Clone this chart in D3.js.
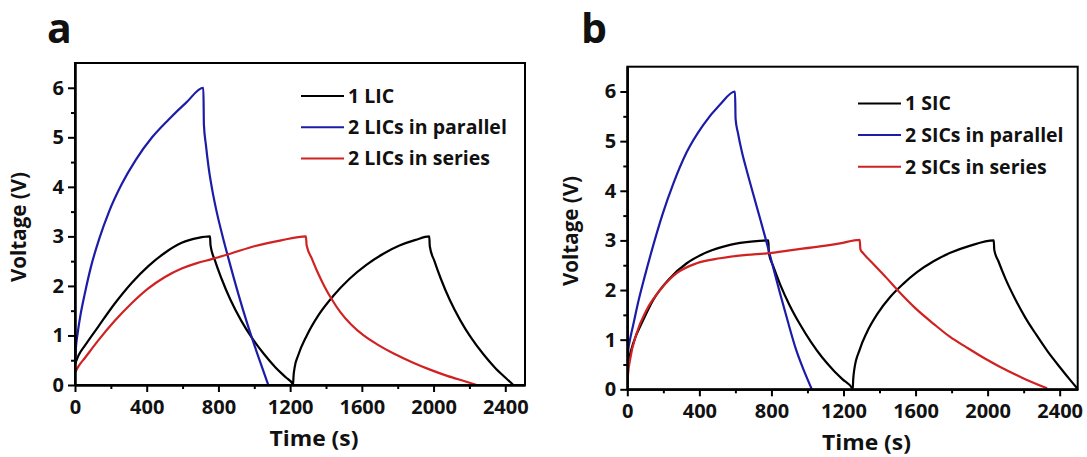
<!DOCTYPE html>
<html>
<head>
<meta charset="utf-8">
<script src="https://cdnjs.cloudflare.com/ajax/libs/d3/7.8.5/d3.min.js"></script>
<style>
  body { margin: 0; background: #fff; }
  text { font-family: "Open Sans", Lato, sans-serif; font-weight: bold; fill: #111; }
</style>
</head>
<body>
<div id="chart"></div>
<script>
// ---- data (time in s, voltage in V) ----
var aLabels = ["1 LIC", "2 LICs in parallel", "2 LICs in series"];
var bLabels = ["1 SIC", "2 SICs in parallel", "2 SICs in series"];

var aSingleT = [0, 20, 56, 130, 223, 316, 409, 502, 595, 688, 753, 756, 782, 817, 867, 927, 987, 1055, 1117, 1177, 1214,
                1216, 1219, 1225, 1245, 1293, 1360, 1441, 1530, 1627, 1720, 1813, 1900, 1976, 1979, 2005, 2040, 2090, 2150,
                2210, 2278, 2340, 2400, 2445];
var aSingleV = [0.42, 0.6, 0.8, 1.18, 1.65, 2.06, 2.4, 2.67, 2.87, 2.97, 3.0, 2.82, 2.5, 2.15, 1.72, 1.3, 0.95, 0.62, 0.36, 0.15, 0.02,
                0, 0.18, 0.35, 0.6, 1.0, 1.42, 1.8, 2.14, 2.43, 2.65, 2.82, 2.93, 3.0, 2.8, 2.5, 2.15, 1.72, 1.3,
                0.95, 0.62, 0.36, 0.15, 0];

var aParallelT = [0, 5, 15, 30, 55, 90, 135, 190, 260, 340, 430, 520, 620, 716, 719, 730, 745, 765, 790, 820, 860, 910, 960, 1020, 1078];
var aParallelV = [0.45, 0.75, 1.05, 1.4, 1.85, 2.4, 2.95, 3.5, 4.05, 4.55, 5.0, 5.35, 5.7, 6.0, 5.26, 4.85, 4.4, 3.95, 3.5, 3.05, 2.5, 1.85, 1.25, 0.6, 0];

var aSeriesT = [0, 20, 56, 130, 223, 316, 409, 502, 595, 680, 762, 874, 1000, 1150, 1288, 1292, 1320, 1350, 1390, 1432, 1480,
                1540, 1610, 1690, 1780, 1880, 1980, 2080, 2170, 2241];
var aSeriesV = [0.25, 0.38, 0.55, 0.9, 1.3, 1.65, 1.95, 2.18, 2.35, 2.46, 2.54, 2.66, 2.8, 2.92, 3.0, 2.82, 2.56, 2.3, 2.0, 1.73, 1.47,
                1.22, 1.0, 0.81, 0.63, 0.46, 0.31, 0.18, 0.08, 0];

var bSingleT = [0, 10, 33, 89, 144, 237, 330, 441, 570, 700, 783, 786, 810, 850, 900, 960, 1020, 1080, 1140, 1195, 1248,
                1251, 1254, 1260, 1290, 1330, 1390, 1459, 1530, 1608, 1700, 1793, 1900, 2034, 2037, 2060, 2100, 2150, 2210,
                2270, 2330, 2400, 2460, 2497];
var bSingleV = [0.4, 0.62, 0.93, 1.4, 1.8, 2.24, 2.54, 2.76, 2.91, 2.98, 3.0, 2.74, 2.48, 2.1, 1.7, 1.3, 0.95, 0.65, 0.4, 0.2, 0.02,
                0, 0.2, 0.4, 0.8, 1.15, 1.53, 1.86, 2.12, 2.36, 2.58, 2.75, 2.89, 3.0, 2.81, 2.58, 2.22, 1.84, 1.44,
                1.1, 0.78, 0.45, 0.18, 0.02];

var bParallelT = [0, 5, 15, 33, 60, 95, 140, 195, 256, 330, 422, 515, 598, 601, 615, 635, 665, 700, 740, 774, 810, 848, 890, 935, 980, 1024];
var bParallelV = [0.49, 0.78, 1.0, 1.3, 1.75, 2.25, 2.85, 3.52, 4.15, 4.78, 5.33, 5.74, 6.0, 5.45, 5.15, 4.8, 4.38, 3.92, 3.4, 2.95, 2.45, 1.93, 1.38, 0.82, 0.38, 0];

var bSeriesT = [0, 4, 15, 52, 107, 182, 274, 385, 515, 663, 774, 922, 1070, 1180, 1290, 1294, 1310, 1367, 1440, 1515,
                1600, 1700, 1790, 1885, 1980, 2070, 2200, 2330];
var bSeriesV = [0.05, 0.3, 0.59, 1.13, 1.6, 2.0, 2.34, 2.54, 2.64, 2.71, 2.74, 2.81, 2.88, 2.94, 3.01, 2.82, 2.74, 2.52, 2.24, 1.94,
                1.63, 1.32, 1.06, 0.84, 0.63, 0.45, 0.22, 0.02];

var xTicks = [0, 400, 800, 1200, 1600, 2000, 2400];
var xMinorTicks = [200, 600, 1000, 1400, 1800, 2200];
var yTicks = [0, 1, 2, 3, 4, 5, 6];
var yMinorTicks = [0.5, 1.5, 2.5, 3.5, 4.5, 5.5];

var lineColors = ["#000000", "#1c1ca8", "#d02222"];

function zipSeries(t, v) {
  return t.map(function(d, i) { return { t: d, v: v[i] }; });
}

// ---- layout ----
var svg = d3.select("#chart").append("svg")
    .attr("width", 1087)
    .attr("height", 457);

var panels = [
  { letter: "a", letterX: 47, left: 75, top: 63, width: 450, height: 322, xMax: 2510,
    legX: 301, legY: 96, legStep: 31.3, labels: aLabels,
    series: [zipSeries(aSingleT, aSingleV), zipSeries(aParallelT, aParallelV), zipSeries(aSeriesT, aSeriesV)] },
  { letter: "b", letterX: 581, left: 627.3, top: 66.7, width: 450.4, height: 322.6, xMax: 2500,
    legX: 858, legY: 103.5, legStep: 31.6, labels: bLabels,
    series: [zipSeries(bSingleT, bSingleV), zipSeries(bParallelT, bParallelV), zipSeries(bSeriesT, bSeriesV)] }
];

panels.forEach(function(p, pi) {
  var x = d3.scaleLinear().domain([0, p.xMax]).range([0, p.width]);
  var y = d3.scaleLinear().domain([0, 6.5]).range([p.height, 0]);

  svg.append("text")
      .attr("x", p.letterX)
      .attr("y", 43)
      .style("font-size", "41px")
      .text(p.letter);

  var g = svg.append("g").attr("transform", "translate(" + p.left + "," + p.top + ")");

  g.append("clipPath").attr("id", "clip" + pi)
    .append("rect").attr("width", p.width).attr("height", p.height);

  // curves
  var line = d3.line()
      .x(function(d) { return x(d.t); })
      .y(function(d) { return y(d.v); })
      .curve(d3.curveMonotoneX);

  g.append("g").attr("clip-path", "url(#clip" + pi + ")")
    .selectAll("path")
    .data(p.series)
    .enter().append("path")
      .attr("d", line)
      .attr("fill", "none")
      .attr("stroke", function(d, i) { return lineColors[i]; })
      .attr("stroke-width", 2.2)
      .attr("stroke-linejoin", "round");

  // frame
  g.append("rect")
      .attr("width", p.width)
      .attr("height", p.height)
      .attr("fill", "none")
      .attr("stroke", "#000")
      .attr("stroke-width", 2);

  // axes
  g.append("g").attr("transform", "translate(0," + p.height + ")")
      .call(d3.axisBottom(x).tickValues(xTicks).tickFormat(d3.format("d"))
        .tickSize(7).tickPadding(8).tickSizeOuter(0));
  g.append("g").attr("transform", "translate(0," + p.height + ")")
      .call(d3.axisBottom(x).tickValues(xMinorTicks).tickSize(4).tickFormat("").tickSizeOuter(0));
  g.append("g")
      .call(d3.axisLeft(y).tickValues(yTicks).tickFormat(d3.format("d"))
        .tickSize(7).tickPadding(4).tickSizeOuter(0));
  g.append("g")
      .call(d3.axisLeft(y).tickValues(yMinorTicks).tickSize(4).tickFormat("").tickSizeOuter(0));

  g.selectAll(".domain").attr("stroke-width", 2);
  g.selectAll(".tick line").attr("stroke-width", 2);
  g.selectAll(".tick text")
      .attr("fill", "#111")
      .style("font-family", "\"Open Sans\", Lato, sans-serif")
      .style("font-weight", "bold")
      .style("font-size", "20px");

  // axis titles
  g.append("text")
      .attr("x", p.width / 2 + 14)
      .attr("y", p.height + 61)
      .attr("text-anchor", "middle")
      .attr("textLength", 89)
      .attr("lengthAdjust", "spacingAndGlyphs")
      .style("font-size", "21px")
      .text("Time (s)");

  g.append("text")
      .attr("transform", "translate(-49," + (p.height / 2 + 3) + ") rotate(-90)")
      .attr("text-anchor", "middle")
      .attr("textLength", 110)
      .attr("lengthAdjust", "spacingAndGlyphs")
      .style("font-size", "21px")
      .text("Voltage (V)");

  // legend
  var leg = svg.append("g")
    .selectAll("g")
    .data(p.labels)
    .enter().append("g")
      .attr("transform", function(d, i) { return "translate(" + p.legX + "," + (p.legY + i * p.legStep) + ")"; });

  leg.append("line")
      .attr("x1", 0).attr("x2", 43)
      .attr("stroke", function(d, i) { return lineColors[i]; })
      .attr("stroke-width", 2);

  leg.append("text")
      .attr("x", 47)
      .attr("dy", "0.35em")
      .style("font-size", "19.5px")
      .text(function(d) { return d; });
});
</script>
</body>
</html>
